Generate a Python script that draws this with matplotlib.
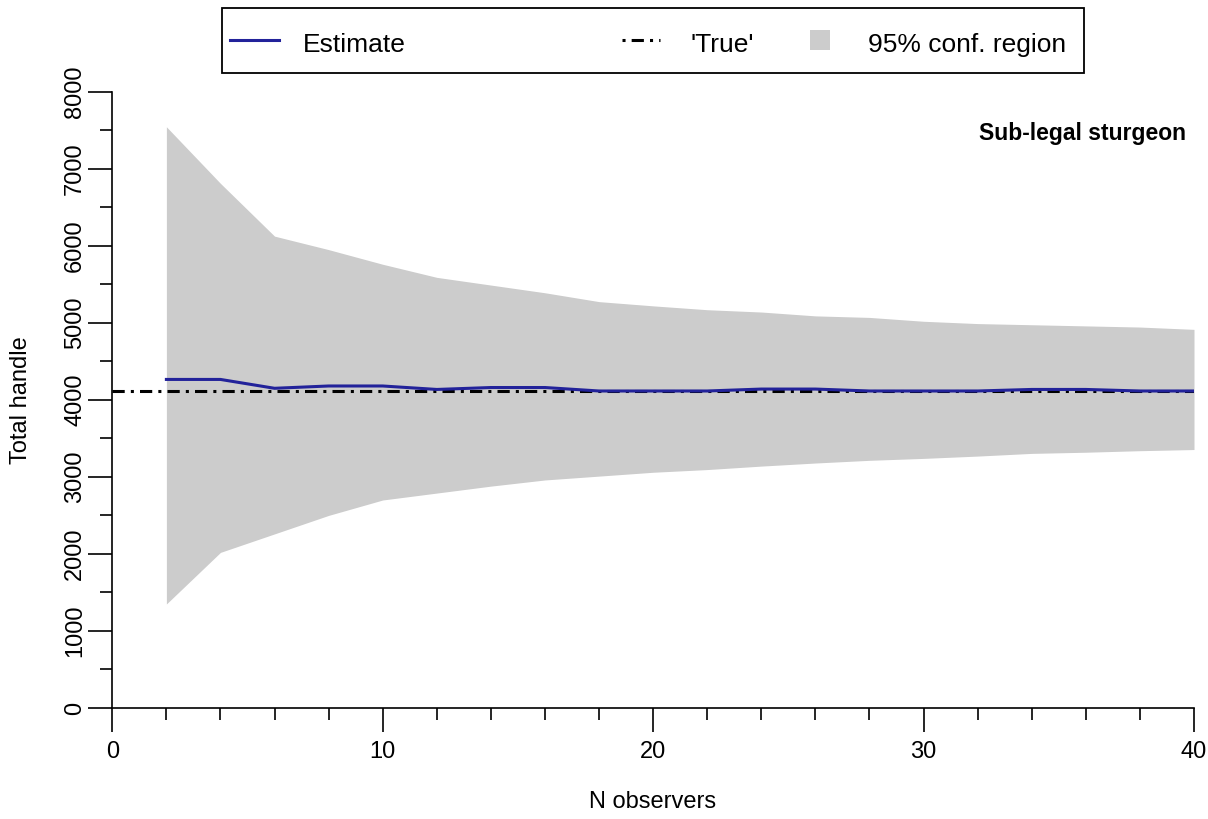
import numpy as np
import matplotlib.pyplot as plt
from matplotlib.ticker import MultipleLocator
from matplotlib.lines import Line2D
from matplotlib.patches import Rectangle

plt.rcParams['font.family'] = ['Liberation Sans', 'DejaVu Sans']

# data
n_obs = [2, 4, 6, 8, 10, 12, 14, 16, 18, 20, 22, 24, 26, 28, 30, 32, 34, 36, 38, 40]
upper = [7545, 6810, 6125, 5950, 5760, 5590, 5490, 5390, 5275, 5220,
         5170, 5140, 5090, 5070, 5020, 4990, 4975, 4960, 4945, 4915]
lower = [1350, 2020, 2260, 2500, 2700, 2790, 2880, 2960, 3010, 3060,
         3095, 3140, 3180, 3215, 3240, 3270, 3305, 3320, 3340, 3355]
estimate = [4265, 4265, 4150, 4180, 4180, 4135, 4160, 4160, 4115, 4115,
            4115, 4140, 4140, 4115, 4115, 4115, 4135, 4135, 4115, 4115]
true_total = 4110
true_x = [0, 40]

W, H = 1208, 819
est_col = '#22229a'
fill_col = '#cccccc'
fs = 17
leg_fs = 19

def fx(p):
    return p / W

def fy(p):
    return 1 - p / H

fig = plt.figure(figsize=(W / 100, H / 100), dpi=100)
ax = fig.add_axes([fx(112.3), fy(708), fx(1194) - fx(112.3), fy(91.7) - fy(708)])

ax.fill_between(n_obs, lower, upper, color=fill_col, lw=0)
ax.plot(true_x, [true_total, true_total], color='black', lw=2.2,
        linestyle=(0, (4, 2, 1, 2)))
ax.plot(n_obs, estimate, color=est_col, lw=2.2)

ax.set_xlim(0, 40)
ax.set_ylim(0, 8000)
ax.spines['top'].set_visible(False)
ax.spines['right'].set_visible(False)
for s in ['left', 'bottom']:
    ax.spines[s].set_linewidth(1.2)

ax.xaxis.set_major_locator(MultipleLocator(10))
ax.xaxis.set_minor_locator(MultipleLocator(2))
ax.yaxis.set_major_locator(MultipleLocator(1000))
ax.yaxis.set_minor_locator(MultipleLocator(500))
ax.tick_params(which='major', length=17.3, width=1.2, labelsize=fs)
ax.tick_params(which='minor', length=8.6, width=1.2)
ax.tick_params(axis='x', which='major', pad=6.5)
ax.tick_params(axis='y', which='major', pad=1.5)
plt.setp(ax.get_yticklabels(), rotation=90, va='center')

ax.text(39.7, 7373, 'Sub-legal sturgeon', ha='right', va='baseline',
        fontsize=16.5, fontweight='bold')

fig.text(fx(653), fy(802), 'N observers', ha='center', va='center', fontsize=fs)
fig.text(fx(21), fy(400), 'Total handle', ha='center', va='center',
         rotation=90, fontsize=fs)

# legend box drawn by hand, R style
fig.add_artist(Rectangle((fx(222), fy(72.7)), fx(1084) - fx(222), fy(8.3) - fy(72.7),
                         transform=fig.transFigure, fill=False, lw=1.3, ec='black'))
fig.add_artist(Line2D([fx(230), fx(279)], [fy(39.5), fy(39.5)], transform=fig.transFigure,
                      color=est_col, lw=2.2))
fig.text(fx(303), fy(52), 'Estimate', ha='left', va='baseline', fontsize=leg_fs)
fig.add_artist(Line2D([fx(622), fx(660)], [fy(39.5), fy(39.5)], transform=fig.transFigure,
                      color='black', lw=2.2, linestyle=(0, (1, 2, 4, 2))))
fig.text(fx(691), fy(52), "'True'", ha='left', va='baseline', fontsize=leg_fs)
fig.add_artist(Rectangle((fx(810), fy(50)), fx(830) - fx(810), fy(30) - fy(50),
                         transform=fig.transFigure, fc=fill_col, ec='none'))
fig.text(fx(868), fy(52), '95% conf. region', ha='left', va='baseline', fontsize=leg_fs)

fig.savefig('out.png', dpi=100)
